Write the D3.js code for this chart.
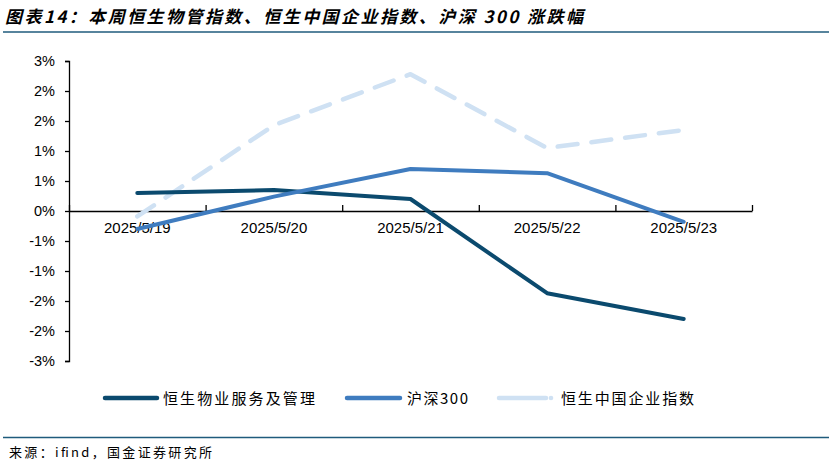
<!DOCTYPE html>
<html>
<head>
<meta charset="utf-8">
<script src="https://cdn.jsdelivr.net/npm/d3@7"></script>
<style>
  body { margin: 0; background: #fff; }
  svg { display: block; }
  .tick text { font-family: "Liberation Sans", Arial, sans-serif; fill: #000; }
</style>
</head>
<body>
<div id="wrapper"></div>
<script>
// 1. Data
const dates = ["2025/5/19", "2025/5/20", "2025/5/21", "2025/5/22", "2025/5/23"]
const propertyMgmt = [0.30, 0.35, 0.20, -1.37, -1.80]   // 恒生物业服务及管理
const csi300 = [-0.30, 0.24, 0.70, 0.63, -0.18]          // 沪深300
const hsChinaEnt = [-0.09, 1.43, 2.28, 1.05, 1.35]        // 恒生中国企业指数
const yTickValues = [-2.5, -2, -1.5, -1, -0.5, 0, 0.5, 1, 1.5, 2, 2.5]
const yTickLabels = ["-3%", "-2%", "-2%", "-1%", "-1%", "0%", "1%", "1%", "2%", "2%", "3%"]
const seriesNames = ["恒生物业服务及管理", "沪深300", "恒生中国企业指数"]

const titleText = "图表14：本周恒生物管指数、恒生中国企业指数、沪深 300 涨跌幅"
const sourceText = "来源：ifind，国金证券研究所"

// 2. Dimensions
const dimensions = {
  width: 831,
  height: 466,
  margin: { top: 61, right: 79, bottom: 105, left: 69 },
}
dimensions.boundedWidth = dimensions.width - dimensions.margin.left - dimensions.margin.right
dimensions.boundedHeight = dimensions.height - dimensions.margin.top - dimensions.margin.bottom

const colors = ["#0b4a6e", "#3f7cbf", "#cfe1f3"]

// 3. Canvas
const wrapper = d3.select("#wrapper")
  .append("svg")
    .attr("width", dimensions.width)
    .attr("height", dimensions.height)

wrapper.append("text")
    .attr("x", 5)
    .attr("y", 23)
    .attr("textLength", 578)
    .attr("lengthAdjust", "spacing")
    .style("font-family", "'Noto Sans CJK SC', sans-serif")
    .style("font-size", "17px")
    .style("font-weight", "bold")
    .style("font-style", "italic")
    .text(titleText)

wrapper.append("line")
    .attr("x1", 3).attr("x2", 829)
    .attr("y1", 32).attr("y2", 32)
    .attr("stroke", "#1f5b7c")
    .attr("stroke-width", 1.5)

wrapper.append("line")
    .attr("x1", 3).attr("x2", 829)
    .attr("y1", 437.5).attr("y2", 437.5)
    .attr("stroke", "#1f5b7c")
    .attr("stroke-width", 1.5)

wrapper.append("text")
    .attr("x", 9)
    .attr("y", 457)
    .attr("textLength", 203)
    .attr("lengthAdjust", "spacing")
    .style("font-family", "'Noto Sans CJK SC', sans-serif")
    .style("font-size", "13px")
    .text(sourceText)

const bounds = wrapper.append("g")
    .attr("transform", `translate(${dimensions.margin.left}, ${dimensions.margin.top})`)

// 4. Scales
const xScale = d3.scaleBand()
  .domain(dates)
  .range([0, dimensions.boundedWidth])
  .padding(0)

const xTickScale = d3.scaleLinear()
  .domain([0, dates.length])
  .range([0, dimensions.boundedWidth])

const yScale = d3.scaleLinear()
  .domain([-2.5, 2.5])
  .range([dimensions.boundedHeight, 0])

// 5. Axes
const yAxis = bounds.append("g")
  .call(d3.axisLeft(yScale)
    .tickValues(yTickValues)
    .tickFormat((d, i) => yTickLabels[i])
    .tickSize(4)
    .tickSizeOuter(4)
    .tickPadding(10))
yAxis.selectAll("text").style("font-size", "14.5px")
yAxis.selectAll("path, line").attr("stroke", "#000").attr("stroke-width", 1.3)

const xAxisTicks = bounds.append("g")
    .attr("transform", `translate(0, ${yScale(0)})`)
  .call(d3.axisTop(xTickScale)
    .tickValues(d3.range(0, dates.length + 1))
    .tickFormat("")
    .tickSize(6)
    .tickSizeOuter(0))
xAxisTicks.selectAll("path, line").attr("stroke", "#000").attr("stroke-width", 1.3)

const xAxisLabels = bounds.append("g")
    .attr("transform", `translate(0, ${yScale(0)})`)
  .call(d3.axisBottom(xScale).tickSize(0).tickPadding(11))
xAxisLabels.select(".domain").remove()
xAxisLabels.selectAll("text").style("font-size", "15px")

// 6. Lines
const lineGenerator = d3.line()
  .x((d, i) => xScale(dates[i]) + xScale.bandwidth() / 2)
  .y(d => yScale(d))

const allSeries = [propertyMgmt, csi300, hsChinaEnt]
const drawOrder = [2, 0, 1]

drawOrder.forEach(k => {
  bounds.append("path")
      .datum(allSeries[k])
      .attr("d", lineGenerator)
      .attr("fill", "none")
      .attr("stroke", colors[k])
      .attr("stroke-width", k === 2 ? 4.5 : 4)
      .attr("stroke-linecap", "round")
      .attr("stroke-linejoin", "round")
      .attr("stroke-dasharray", k === 2 ? "20 14" : null)
})

// 7. Legend
const legendItems = [
  { x: 105, len: 52, textX: 163, textLen: 152 },
  { x: 347, len: 53, textX: 407, textLen: 61 },
  { x: 499, len: 47, textX: 561, textLen: 133 },
]
const legendY = 398

legendItems.forEach((item, k) => {
  wrapper.append("line")
      .attr("x1", item.x).attr("x2", item.x + item.len)
      .attr("y1", legendY).attr("y2", legendY)
      .attr("stroke", colors[k])
      .attr("stroke-width", 4.5)
      .attr("stroke-linecap", "round")
  if (k === 2) {
    wrapper.append("circle")
        .attr("cx", 551).attr("cy", legendY)
        .attr("r", 2.3)
        .attr("fill", colors[k])
  }
  wrapper.append("text")
      .attr("x", item.textX)
      .attr("y", legendY + 5.5)
      .attr("textLength", item.textLen)
      .attr("lengthAdjust", "spacing")
      .style("font-family", "'Noto Sans CJK SC', sans-serif")
      .style("font-size", "15px")
      .text(seriesNames[k])
})
</script>
</body>
</html>
